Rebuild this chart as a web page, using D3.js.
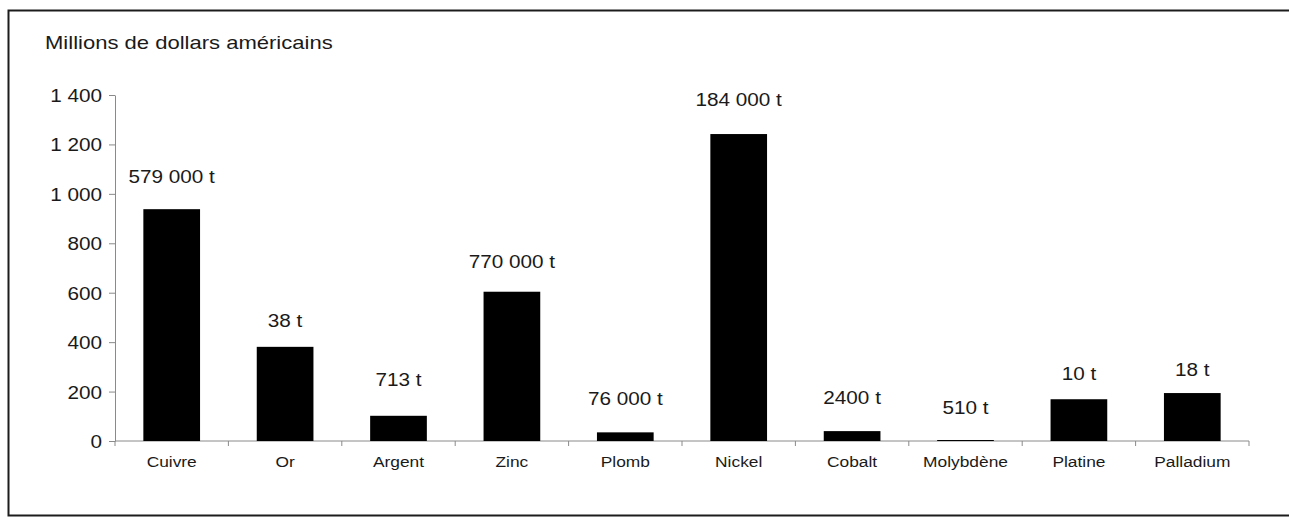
<!DOCTYPE html>
<html>
<head>
<meta charset="utf-8">
<script src="https://cdn.jsdelivr.net/npm/d3@7"></script>
<style>
  html, body { margin: 0; padding: 0; background: #fff; overflow: hidden; }
  svg { display: block; font-family: "Liberation Sans", Arial, sans-serif; }
</style>
</head>
<body>
<svg id="chart" width="1289" height="517"></svg>
<script>
// Metals, value in millions of US dollars, with the tonnage printed above each bar
const metals = ["Cuivre", "Or", "Argent", "Zinc", "Plomb", "Nickel", "Cobalt", "Molybdène", "Platine", "Palladium"];
const valuesMUSD = [938, 381, 102, 604, 35, 1242, 40, 4, 169, 194];
const tonnageLabels = ["579 000 t", "38 t", "713 t", "770 000 t", "76 000 t", "184 000 t", "2400 t", "510 t", "10 t", "18 t"];
const yTicks = [0, 200, 400, 600, 800, 1000, 1200, 1400];
const yTitle = "Millions de dollars américains";

// vertical gap between each bar top and its tonnage label (px)
const labelGap = [26, 20, 30, 24, 27, 28, 27, 26, 19, 17];

const svg = d3.select("#chart");
const W = 1289, H = 517;
const margin = { left: 115, right: 40, top: 95, bottom: 76 };
const plotW = 1249 - margin.left;
const plotH = 441 - margin.top;

const fr = d3.formatLocale({ decimal: ",", thousands: "\u00a0", grouping: [3], currency: ["", ""] });
const fmt = fr.format(",d");

const sx = 1.12; // horizontal text stretch

// outer frame: top, left and bottom edges (open on the right)
svg.append("path")
  .attr("d", `M${W},10.5 H8.5 V515.5 H${W}`)
  .attr("fill", "none").attr("stroke", "#1c1c1c").attr("stroke-width", 2);

const g = svg.append("g").attr("transform", `translate(${margin.left},${margin.top})`);

const x = d3.scaleBand().domain(metals).range([0, plotW]).paddingInner(0.5).paddingOuter(0.25);
const y = d3.scaleLinear().domain([0, 1400]).range([plotH, 0]);

// y axis
const yAxis = g.append("g")
  .call(d3.axisLeft(y).tickValues(yTicks).tickFormat(fmt).tickSize(6).tickSizeOuter(0));
yAxis.select(".domain").attr("stroke", "#8a8a8a");
yAxis.selectAll(".tick line").attr("stroke", "#8a8a8a");
yAxis.selectAll(".tick text")
  .attr("x", -13 / sx).attr("dy", "0.35em")
  .attr("transform", `scale(${sx},1)`)
  .attr("fill", "#1a1a1a").style("font-size", "18.5px");

// x axis: ticks at category boundaries
const xAxisG = g.append("g").attr("transform", `translate(0,${plotH})`);
xAxisG.append("line").attr("x1", 0).attr("x2", plotW).attr("y1", 0).attr("y2", 0)
  .attr("stroke", "#8a8a8a");
const step = x.step();
xAxisG.selectAll("line.bt")
  .data(d3.range(metals.length + 1))
  .join("line").attr("class", "bt")
  .attr("x1", i => i * step).attr("x2", i => i * step)
  .attr("y1", 0).attr("y2", 5).attr("stroke", "#8a8a8a");
xAxisG.selectAll("text.cat")
  .data(metals)
  .join("text").attr("class", "cat")
  .attr("transform", d => `translate(${x(d) + x.bandwidth() / 2},26) scale(${sx},1)`)
  .attr("text-anchor", "middle")
  .attr("fill", "#1a1a1a").style("font-size", "15.5px")
  .text(d => d);

// bars
g.selectAll("rect.bar")
  .data(metals)
  .join("rect").attr("class", "bar")
  .attr("x", d => x(d))
  .attr("width", x.bandwidth())
  .attr("y", (d, i) => y(valuesMUSD[i]))
  .attr("height", (d, i) => plotH - y(valuesMUSD[i]))
  .attr("fill", "#000");

// tonnage labels
g.selectAll("text.ton")
  .data(metals)
  .join("text").attr("class", "ton")
  .attr("transform", (d, i) => `translate(${x(d) + x.bandwidth() / 2},${y(valuesMUSD[i]) - labelGap[i]}) scale(${sx},1)`)
  .attr("text-anchor", "middle")
  .attr("fill", "#1a1a1a").style("font-size", "18.5px")
  .text((d, i) => tonnageLabels[i]);

// axis title
svg.append("text")
  .attr("transform", `translate(45,49) scale(1.16,1)`)
  .attr("fill", "#1a1a1a").style("font-size", "19px")
  .text(yTitle);
</script>
</body>
</html>
